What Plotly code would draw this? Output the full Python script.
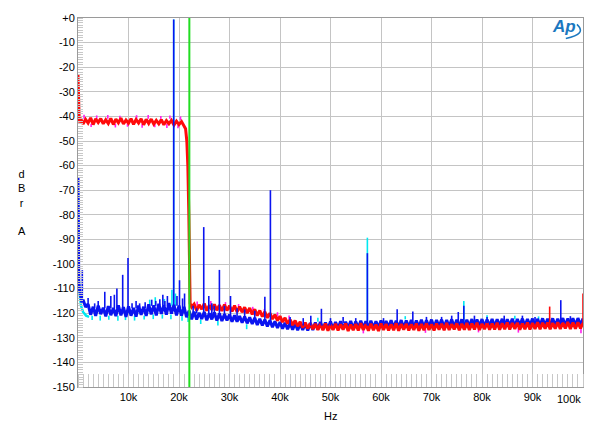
import plotly.graph_objects as go

# ---- data (frequency in kHz, level in dBr A) ----

# red channel - low band and roll-off
red_lo_khz = [0, 0.1, 0.25,
              0.5, 1.0, 1.5, 2.0, 2.5, 3.0, 3.5, 4.0, 4.5, 5.0,
              5.5, 6.0, 6.5, 7.0, 7.5, 8.0, 8.5, 9.0, 9.5, 10.0,
              10.5, 11.0, 11.5, 12.0, 12.5, 13.0, 13.5, 14.0, 14.5, 15.0,
              15.5, 16.0, 16.5, 17.0, 17.5, 18.0, 18.5, 19.0, 19.5, 20.0,
              20.5, 21.0,
              21.3, 21.55, 21.75, 21.95, 22.1, 22.2, 22.5]
red_lo_db = [-23, -40, -42.5,
             -40.7, -43.1, -41.2, -42.7, -40.6, -43.3, -41.0, -42.5, -40.9, -43.0,
             -41.4, -42.9, -40.8, -43.3, -41.1, -42.6, -40.7, -43.1, -41.5, -42.8,
             -40.9, -43.2, -41.3, -42.7, -41.0, -43.4, -41.2, -42.9, -41.1, -43.1,
             -41.6, -43.0, -41.3, -43.4, -41.7, -43.0, -41.6, -43.5, -41.9, -43.3,
             -42.1, -43.6,
             -45, -50, -60, -80, -100, -116, -117.5]

# 0.5 kHz grid from 23k to 100k (155 points)
hi_khz = [23 + 0.5 * i for i in range(155)]

red_hi_db = [-116.3, -118.9, -116.6, -118.4, -116.1, -119.0, -116.8, -118.6, -116.4, -118.8,
             -116.7, -119.1, -116.5, -118.9, -117.0, -119.3, -116.9, -119.5, -117.3, -119.6,
             -117.6, -120.0, -117.9, -120.5, -118.4, -121.0, -118.9, -121.4, -119.4, -121.9,
             -120.0, -122.4, -120.6, -123.0, -121.2, -123.6, -121.9, -124.2, -122.6, -124.8,
             -123.0, -125.3, -123.5, -125.9, -123.8, -126.3, -124.1, -126.5, -124.3, -126.8,
             -124.4, -126.9, -124.2, -127.1, -124.6, -126.8, -124.3, -127.0, -124.5, -126.7,
             -124.2, -127.2, -124.6, -126.9, -124.4, -127.0, -124.1, -126.8, -124.5, -127.1,
             -124.3, -126.9, -124.6, -127.2, -124.2, -126.8, -124.4, -127.0, -124.5, -126.9,
             -124.1, -127.1, -124.4, -126.7, -124.3, -127.0, -124.5, -126.8, -124.2, -127.1,
             -124.4, -126.9, -124.1, -126.8, -124.5, -127.0, -124.2, -126.7, -124.3, -126.9,
             -124.0, -126.8, -124.4, -126.6, -124.1, -126.9, -124.3, -126.7, -124.0, -126.8,
             -124.2, -126.6, -123.9, -126.8, -124.3, -126.5, -124.0, -126.7, -124.2, -126.6,
             -123.9, -126.7, -124.1, -126.5, -123.8, -126.6, -124.0, -126.4, -123.9, -126.7,
             -124.1, -126.5, -123.8, -126.6, -124.0, -126.4, -123.7, -126.5, -123.9, -126.3,
             -123.8, -126.5, -124.0, -126.3, -123.7, -126.4, -123.9, -126.2, -123.6, -126.4,
             -123.8, -126.3, -123.7, -126.2, -124.0]

# red spikes: (kHz, foot dB, peak dB)
red_spikes = [(93.4, -125.0, -117.3), (100.0, -125.0, -112.0)]

# magenta fringe poking out of the red band: (kHz, foot dB, tip dB)
mag_fringe = [(1.2, -41, -39.3), (3.7, -41, -39.6), (5.9, -41, -39.4), (8.3, -41, -39.7),
              (11.6, -41, -39.5), (13.9, -41, -39.4), (16.4, -41, -39.8), (18.2, -41, -39.6),
              (20.3, -41.5, -40.0), (2.6, -43, -44.3), (7.4, -43, -44.5), (9.8, -43, -44.2),
              (12.7, -43, -44.6), (15.2, -43, -44.4), (17.6, -43, -44.7), (19.8, -43.5, -44.8),
              (23.6, -117, -115.2), (26.3, -117, -115.0), (29.2, -117.5, -115.5),
              (31.8, -118, -116.3), (34.6, -119, -117.4), (36.9, -120, -118.3),
              (39.5, -121.5, -119.6), (41.8, -122.5, -120.9), (56.5, -126.5, -128.2),
              (68.8, -126.5, -128.0), (79.3, -126, -127.8), (87.2, -126, -127.9),
              (99.6, -126, -128.2)]

# blue channel
blue_lo_khz = [0, 0.05, 0.15, 0.3, 0.5, 0.75, 1.0, 1.5,
               2.0, 2.5, 3.0, 3.5, 4.0, 4.5, 5.0, 5.5, 6.0, 6.5,
               7.0, 7.5, 8.0, 8.5, 9.0, 9.5, 10.0, 10.5, 11.0, 11.5,
               12.0, 12.5, 13.0, 13.5, 14.0, 14.5, 15.0, 15.5, 16.0, 16.5,
               17.0, 17.5, 18.0, 18.5, 19.0, 19.5, 20.0, 20.5, 21.0, 21.5,
               22.0, 22.5]
blue_lo_db = [-65, -98, -107, -110.5, -112.5, -115.5, -114.5, -117.5,
              -116.3, -120.6, -117.4, -121.1, -116.9, -120.4, -117.8, -121.3, -117.1, -120.8,
              -117.9, -121.2, -116.8, -120.9, -117.5, -121.5, -117.2, -121.0, -117.9, -121.4,
              -116.9, -120.7, -117.4, -121.1, -116.4, -120.5, -116.8, -120.9, -116.2, -120.3,
              -116.7, -120.6, -115.9, -120.2, -116.6, -120.9, -116.9, -121.0, -117.4, -121.6,
              -119.0, -122.5]
blue_hi_db = [-119.4, -122.6, -119.8, -122.3, -119.5, -122.9, -120.0, -122.5, -119.7, -123.0,
              -120.1, -123.2, -120.4, -122.9, -120.6, -123.5, -120.9, -123.4, -121.2, -123.9,
              -121.4, -124.1, -121.7, -124.4, -121.9, -124.8, -122.3, -125.0, -122.6, -125.4,
              -122.9, -125.7, -123.3, -126.0, -123.6, -126.3, -123.9, -126.5, -124.1, -126.7,
              -124.0, -126.9, -124.3, -126.8, -124.2, -127.0, -124.0, -126.8, -123.8, -126.6,
              -123.6, -126.5, -123.8, -126.3, -123.4, -126.4, -123.6, -126.2, -123.3, -126.3,
              -123.5, -126.1, -123.2, -126.3, -123.4, -126.0, -123.1, -126.2, -123.3, -126.0,
              -123.1, -126.1, -123.3, -125.9, -123.0, -126.0, -123.2, -125.8, -122.9, -126.0,
              -123.1, -125.8, -122.8, -126.0, -123.0, -125.7, -122.8, -125.9, -123.0, -125.7,
              -122.7, -125.8, -122.9, -125.6, -122.6, -125.8, -122.8, -125.5, -122.6, -125.7,
              -122.8, -125.5, -122.5, -125.7, -122.7, -125.4, -122.5, -125.6, -122.7, -125.4,
              -122.4, -125.6, -122.6, -125.3, -122.4, -125.5, -122.6, -125.3, -122.3, -125.5,
              -122.5, -125.2, -122.3, -125.4, -122.5, -125.2, -122.2, -125.4, -122.4, -125.1,
              -122.2, -125.3, -122.4, -125.1, -122.2, -125.3, -122.3, -125.0, -122.1, -125.2,
              -122.3, -125.0, -122.1, -125.2, -122.3, -124.9, -122.0, -125.1, -122.2, -124.9,
              -122.1, -125.0, -122.0, -124.9, -122.2]

blue_spikes = [(0.85, -114, -102.5), (2.0, -117, -113.8), (3.3, -118, -116.0),
               (4.0, -118, -115.0), (5.3, -118, -111.3), (6.5, -118, -113.0),
               (7.2, -118, -112.5), (7.7, -118, -110.0), (8.85, -118, -104.4),
               (9.9, -118, -97.6), (10.7, -118, -116.0), (11.5, -118, -115.0),
               (12.2, -118, -116.0), (13.3, -118, -115.5), (14.6, -117, -114.5),
               (15.4, -117, -115.0), (16.2, -117, -114.3), (16.8, -117, -112.5),
               (17.2, -117, -115.0), (17.7, -117, -113.0), (18.95, -117, -0.6),
               (19.6, -117, -113.0), (20.1, -118, -106.6), (20.7, -118, -114.0),
               (21.1, -119, -112.0), (22.8, -120, -117.0), (23.5, -120, -118.0),
               (24.9, -121, -85.0), (25.9, -121, -113.0), (26.5, -121, -116.0),
               (27.0, -121, -117.0), (28.0, -122, -102.4), (29.0, -122, -117.0),
               (30.2, -122, -113.0), (31.5, -122, -118.0), (33.0, -123, -118.5),
               (35.0, -123, -119.0), (37.0, -124, -113.3), (38.1, -124, -70.0),
               (42.0, -125, -121.5), (44.6, -125, -122.0), (46.1, -125, -121.0),
               (48.2, -125, -118.2), (50.0, -125, -122.0), (52.5, -124, -121.5),
               (55.0, -124, -122.0), (57.3, -125, -95.6), (60.5, -124, -122.0),
               (63.2, -124, -118.4), (66.3, -124, -119.3), (69.0, -124, -121.5),
               (72.0, -124, -121.5), (74.0, -124, -121.0), (75.3, -124, -119.5),
               (76.4, -124, -117.0), (78.5, -124, -121.0), (81.0, -124, -121.5),
               (84.4, -124, -121.0), (88.0, -124, -121.0), (90.5, -124, -121.5),
               (95.6, -124, -114.7), (97.5, -124, -121.2)]

# cyan start (under blue) and cyan fringe
cyan_lo_khz = [0, 0.1, 0.3, 0.6, 1.0, 1.6, 2.2]
cyan_lo_db = [-70, -104, -112, -117, -119.5, -121, -121.5]
cyan_fringe = [(2.8, -121, -122.8), (4.4, -121, -123.0), (6.1, -121, -122.7),
               (7.9, -121, -123.1), (9.4, -121, -122.8), (11.2, -121, -123.0),
               (13.1, -121, -122.6), (14.9, -120.5, -122.4), (16.7, -120.5, -122.2),
               (18.4, -120.5, -122.5), (20.6, -121, -123.1), (21.8, -121.5, -123.6),
               (14.2, -117, -114.5), (15.3, -117, -113.5), (17.1, -116.5, -114.2),
               (18.6, -117, -110.5), (19.3, -117, -112.0), (18.95, -117, -0.6),
               (24.3, -122.5, -124.4), (27.7, -123, -125.0), (33.4, -124.5, -126.5),
               (47.5, -123.5, -121.8), (57.3, -125, -89.3), (64.8, -122.5, -121.2),
               (76.4, -124, -115.0), (81.0, -122.5, -120.8), (86.5, -122.5, -121.0),
               (91.2, -122.5, -121.3)]

green_khz = 22.05

y_ticks = list(range(-150, 1, 10))
y_labels = ["+0" if v == 0 else str(v) for v in y_ticks]
x_ticks = [10, 20, 30, 40, 50, 60, 70, 80, 90]
x_labels = ["%dk" % v for v in x_ticks]


def hz(khz_list):
    return [k * 1000 for k in khz_list]


def spike_xy(spikes):
    xs, ys = [], []
    for f, foot, peak in spikes:
        xs += [f * 1000, f * 1000, None]
        ys += [foot, peak, None]
    return xs, ys


fig = go.Figure()


def floor(x, y, color, width):
    fig.add_trace(go.Scatter(x=x, y=y, mode="lines", hoverinfo="skip",
                             line=dict(color=color, width=width)))


def spikes(sp, color, width=1.6):
    sx, sy = spike_xy(sp)
    fig.add_trace(go.Scatter(x=sx, y=sy, mode="lines", hoverinfo="skip",
                             line=dict(color=color, width=width)))


CYAN, BLUE, MAGENTA, RED = "#00e8f0", "#0a14f0", "#ff20f0", "#ff0a0a"

floor(hz(cyan_lo_khz), cyan_lo_db, CYAN, 2.5)
spikes(cyan_fringe, CYAN, 1.6)
floor(hz(blue_lo_khz + hi_khz), blue_lo_db + blue_hi_db, BLUE, 3)
spikes(mag_fringe, MAGENTA, 1.6)
floor(hz(red_lo_khz + hi_khz), red_lo_db + red_hi_db, RED, 3)
spikes(red_spikes, RED)
spikes(blue_spikes, BLUE)

fig.add_shape(type="line", x0=green_khz * 1000, x1=green_khz * 1000, y0=-150, y1=0,
              line=dict(color="#22dd22", width=2), layer="above")

# Ap logo
fig.add_annotation(x=96300, y=-3.6, xref="x", yref="y", text="<b><i>Ap</i></b>",
                   showarrow=False, font=dict(size=17, color="#1b78c0", family="Liberation Sans"))
fig.add_shape(type="path", path="M 98800,-2.6 Q 100900,-6.6 96600,-8.3",
              line=dict(color="#1b78c0", width=1.5))

font = dict(family="Liberation Sans", size=11, color="black")
grid = "#c4c4c4"

fig.update_xaxes(range=[0, 100000], tickvals=[v * 1000 for v in x_ticks], ticktext=x_labels,
                 showgrid=True, gridcolor=grid, gridwidth=1, zeroline=False,
                 showline=True, linecolor="#9a9a9a", mirror=True, ticks="", ticklen=0,
                 tickfont=font,
                 minor=dict(dtick=1000, ticks="inside", ticklen=13, tickcolor="#c8c8c8",
                            showgrid=False))
fig.update_yaxes(range=[-150, 0], tickvals=y_ticks, ticktext=y_labels,
                 showgrid=True, gridcolor=grid, gridwidth=1, zeroline=False,
                 showline=True, linecolor="#9a9a9a", mirror=True, ticks="", ticklen=0,
                 tickfont=font,
                 minor=dict(dtick=1, ticks="inside", ticklen=5, tickcolor="#c8c8c8",
                            showgrid=False))

fig.add_annotation(x=100000, y=-150, xref="x", yref="y", text="100k", showarrow=False,
                   xanchor="right", yanchor="top", yshift=-4, font=font)
fig.add_annotation(x=0.5, y=-0.078, xref="paper", yref="paper", text="Hz", showarrow=False,
                   xanchor="center", yanchor="middle", font=font)
fig.add_annotation(x=-0.111, y=0.5, xref="paper", yref="paper", text="d<br>B<br>r<br><br>A",
                   showarrow=False, xanchor="center", yanchor="middle", font=font,
                   align="center")

fig.update_layout(width=600, height=433, autosize=False,
                  margin=dict(l=78, r=17, t=12, b=46),
                  paper_bgcolor="white", plot_bgcolor="white",
                  showlegend=False, font=font)

fig.write_html("out.html", config={"displayModeBar": False},
               post_script="document.body.style.margin='0px';")
